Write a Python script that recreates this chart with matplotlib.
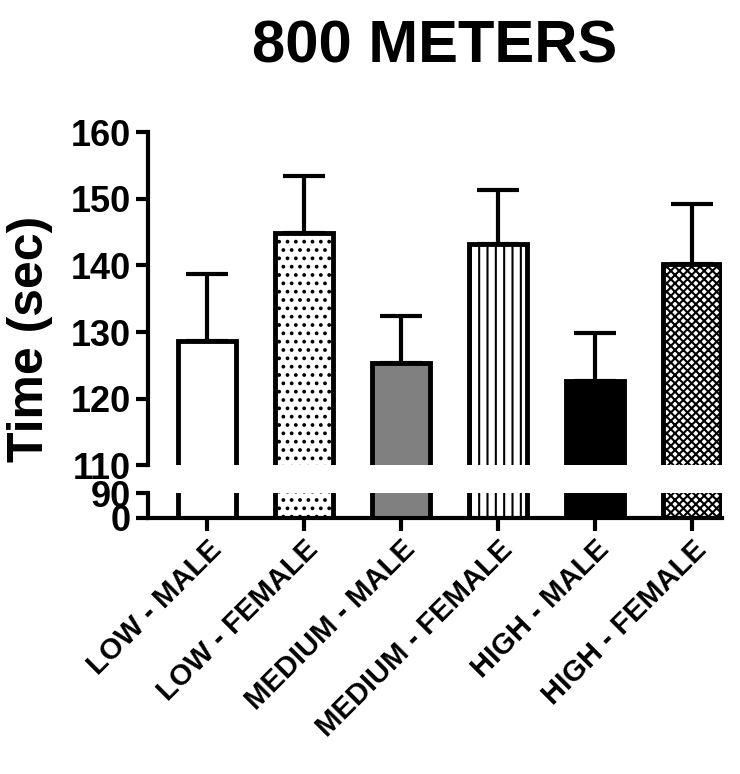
import matplotlib
matplotlib.use("Agg")
import matplotlib.pyplot as plt

plt.rcParams['font.family'] = 'Liberation Sans'
plt.rcParams['font.weight'] = 'bold'
plt.rcParams['hatch.linewidth'] = 1.5

categories = ["LOW - MALE", "LOW - FEMALE", "MEDIUM - MALE", "MEDIUM - FEMALE", "HIGH - MALE", "HIGH - FEMALE"]
means = [128.7, 144.9, 125.3, 143.3, 122.6, 140.2]
errors = [10.0, 8.6, 7.1, 8.1, 7.2, 9.1]
top_ticks = [110, 120, 130, 140, 150, 160]
bottom_ticks = [0, 90]

faces = ["white", "white", "#808080", "white", "black", "white"]
hatches = [None, "..", None, "||", None, "xxxx"]

fig = plt.figure(figsize=(7.4, 7.74), dpi=100)
ax_top = fig.add_axes([0.2, 0.399, 0.776, 0.430])
ax_bot = fig.add_axes([0.2, 0.331, 0.776, 0.032])

x = list(range(len(categories)))
for ax in (ax_top, ax_bot):
    for i in x:
        ax.bar(i, means[i], width=0.6, color=faces[i], edgecolor="black",
               linewidth=3.5, hatch=hatches[i], zorder=2)
    ax.set_xlim(-0.61, 5.31)
    ax.spines['right'].set_visible(False)
    ax.spines['top'].set_visible(False)
    ax.spines['left'].set_linewidth(3)
    ax.spines['bottom'].set_linewidth(3)
    ax.tick_params(width=3, length=9, labelsize=26)

ax_top.errorbar(x, means, yerr=[[0]*6, errors], fmt="none", ecolor="black",
                elinewidth=3, capsize=15, capthick=3, zorder=1)
ax_top.set_ylim(110, 160)
ax_top.set_yticks(top_ticks)
ax_top.spines['bottom'].set_visible(False)
ax_top.tick_params(axis='x', bottom=False, labelbottom=False)
ax_top.set_ylabel("Time (sec)", fontsize=36, fontweight='bold')
ax_top.yaxis.set_label_coords(-0.165, 0.38)
ax_top.set_title("800 METERS", fontsize=43, fontweight='bold', pad=50)

ax_bot.set_ylim(0, 90)
ax_bot.set_yticks(bottom_ticks)
ax_bot.set_xticks(x)
ax_bot.set_xticklabels(categories, rotation=45, ha='right', rotation_mode='anchor',
                       fontsize=21, fontweight='bold')
for lbl in ax_top.get_yticklabels() + ax_bot.get_yticklabels():
    lbl.set_fontweight('bold')

fig.savefig("out.png", dpi=100)
